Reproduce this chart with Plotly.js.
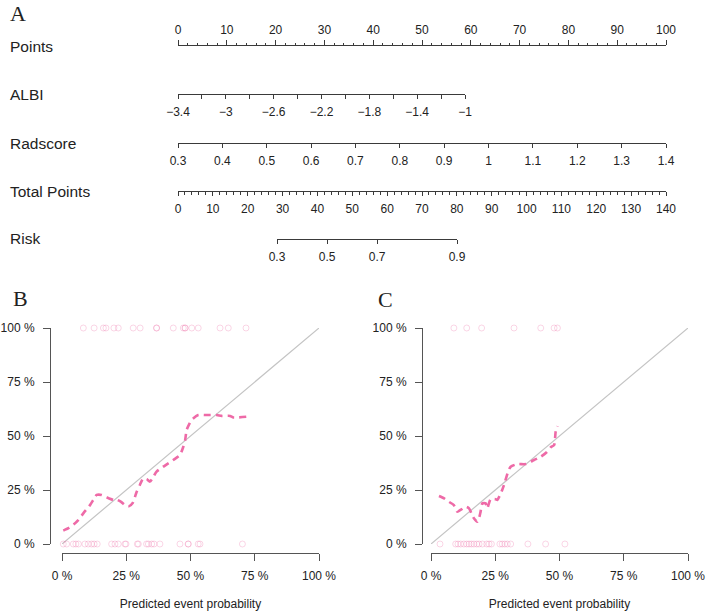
<!DOCTYPE html>
<html><head><meta charset="utf-8">
<script src="https://cdn.plot.ly/plotly-3.0.1.min.js"></script>
<style>html,body{margin:0;padding:0;background:#fff}#chart{width:708px;height:614px}</style>
</head><body><div id="chart"></div><script>
// ---------------- DATA ----------------
const rowLabels = ["Points", "ALBI", "Radscore", "Total Points", "Risk"];
const pointsRange = [0, 100];
const albiTicks = [-3.4,-3.2,-3.0,-2.8,-2.6,-2.4,-2.2,-2.0,-1.8,-1.6,-1.4,-1.2,-1.0];
const albiTickText = ["\u22123.4","","\u22123","","\u22122.6","","\u22122.2","","\u22121.8","","\u22121.4","","\u22121"];
const radTicks = [0.3,0.4,0.5,0.6,0.7,0.8,0.9,1.0,1.1,1.2,1.3,1.4];
const radTickText = ["0.3","0.4","0.5","0.6","0.7","0.8","0.9","1","1.1","1.2","1.3","1.4"];
const totalRange = [0, 140];
const riskTicks = [0.3, 0.5, 0.7, 0.9];
const riskTickText = ["0.3", "0.5", "0.7", "0.9"];

const pctTicks = [0, 0.25, 0.5, 0.75, 1];
const pctText = ["0 %", "25 %", "50 %", "75 %", "100 %"];

// Panel B
const bCurveX = [0.005,0.025,0.045,0.063,0.085,0.109,0.125,0.135,0.154,0.174,0.2,0.215,0.23,0.245,0.26,0.275,0.29,0.303,0.316,0.33,0.342,0.355,0.368,0.394,0.433,0.459,0.472,0.479,0.485,0.495,0.504,0.53,0.563,0.602,0.621,0.654,0.667,0.718];
const bCurveY = [0.062,0.073,0.09,0.111,0.145,0.18,0.21,0.227,0.227,0.216,0.204,0.204,0.195,0.18,0.175,0.19,0.24,0.273,0.304,0.30,0.289,0.31,0.335,0.358,0.389,0.412,0.45,0.48,0.528,0.555,0.574,0.597,0.597,0.597,0.593,0.593,0.586,0.589];
const bEventX = [0.083,0.125,0.161,0.171,0.202,0.219,0.277,0.304,0.368,0.368,0.433,0.472,0.479,0.479,0.505,0.530,0.615,0.647,0.716];
const bNoEventX = [0.005,0.018,0.044,0.054,0.064,0.089,0.102,0.115,0.125,0.137,0.193,0.206,0.219,0.245,0.249,0.293,0.297,0.329,0.336,0.349,0.358,0.381,0.459,0.491,0.491,0.530,0.537,0.702];

// Panel C
const cCurveX = [0.031,0.051,0.07,0.089,0.102,0.118,0.135,0.148,0.158,0.167,0.18,0.187,0.193,0.2,0.213,0.219,0.226,0.232,0.252,0.258,0.268,0.277,0.284,0.3,0.31,0.336,0.368,0.401,0.427,0.45,0.466,0.479,0.485,0.492];
const cCurveY = [0.222,0.211,0.195,0.18,0.15,0.16,0.173,0.165,0.14,0.119,0.103,0.12,0.15,0.188,0.188,0.165,0.19,0.207,0.207,0.204,0.225,0.25,0.273,0.335,0.358,0.37,0.37,0.389,0.404,0.425,0.448,0.458,0.52,0.546];
const cEventX = [0.089,0.139,0.197,0.323,0.427,0.479,0.492];
const cNoEventX = [0.035,0.096,0.105,0.115,0.128,0.139,0.148,0.157,0.167,0.178,0.187,0.2,0.217,0.226,0.235,0.268,0.277,0.287,0.297,0.31,0.377,0.446,0.521];

// ---------------- LAYOUT HELPERS ----------------
const W = 708, H = 614;
const fx = p => p / W;
const fy = p => 1 - p / H;
const logit = p => Math.log(p / (1 - p));
const FONT = "Liberation Sans, Arial, Helvetica, sans-serif";
const SERIF = "Liberation Serif, Times New Roman, serif";
const AX = "#3a3a3a";
const PINK = "#EE6AA7";
const DOT = "rgba(238,106,167,0.28)";

const traces = [];
const layout = {
  width: W, height: H,
  margin: {l: 0, r: 0, t: 0, b: 0},
  paper_bgcolor: "#fff", plot_bgcolor: "rgba(0,0,0,0)",
  showlegend: false,
  font: {family: FONT, size: 12, color: "#222"},
  annotations: [], shapes: []
};

function hiddenY(lineY, top) {
  const y0 = fy(lineY);
  return {domain: top ? [y0 - 0.004, y0] : [y0, y0 + 0.004], range: [0, 1],
          visible: false, fixedrange: true};
}
function nomoAxis(x0, x1, top, extra) {
  return Object.assign({
    domain: [fx(x0), fx(x1)], side: top ? "top" : "bottom",
    showline: true, linecolor: AX, linewidth: 1,
    ticks: "outside", ticklen: 4, tickwidth: 1, tickcolor: AX,
    showgrid: false, zeroline: false, fixedrange: true,
    ticklabelstandoff: top ? 1 : 3,
    tickfont: {family: FONT, size: 12, color: "#222"}
  }, extra);
}
function ghost(xs, ax) {
  traces.push({x: xs, y: xs.map(() => 0), xaxis: "x" + ax, yaxis: "y" + ax,
    mode: "markers", marker: {opacity: 0}, hoverinfo: "skip", type: "scatter"});
}

// Row 1: Points (line at y=46, ticks up)
layout.xaxis = nomoAxis(178, 666, true, {anchor: "y", range: pointsRange,
  tickmode: "linear", tick0: 0, dtick: 10, ticklen: 5,
  minor: {tickmode: "linear", tick0: 0, dtick: 2, ticks: "outside", ticklen: 2.5, tickcolor: AX}});
layout.yaxis = Object.assign(hiddenY(46, true), {anchor: "x"});
traces.push({x: pointsRange, y: [0, 0], xaxis: "x", yaxis: "y", mode: "markers",
  marker: {opacity: 0}, hoverinfo: "skip", type: "scatter"});

// Row 2: ALBI
layout.xaxis2 = nomoAxis(178, 465, false, {anchor: "y2", range: [albiTicks[0], albiTicks[albiTicks.length-1]],
  tickmode: "array", tickvals: albiTicks, ticktext: albiTickText});
layout.yaxis2 = Object.assign(hiddenY(94, false), {anchor: "x2"});
ghost(albiTicks, 2);

// Row 3: Radscore
layout.xaxis3 = nomoAxis(178, 666, false, {anchor: "y3", range: [radTicks[0], radTicks[radTicks.length-1]],
  tickmode: "array", tickvals: radTicks, ticktext: radTickText});
layout.yaxis3 = Object.assign(hiddenY(143, false), {anchor: "x3"});
ghost(radTicks, 3);

// Row 4: Total Points
layout.xaxis4 = nomoAxis(178, 666, false, {anchor: "y4", range: totalRange,
  tickmode: "linear", tick0: 0, dtick: 10,
  minor: {tickmode: "linear", tick0: 0, dtick: 2, ticks: "outside", ticklen: 2.5, tickcolor: AX}});
layout.yaxis4 = Object.assign(hiddenY(191, false), {anchor: "x4"});
ghost(totalRange, 4);

// Row 5: Risk (logit scale)
const riskVals = riskTicks.map(logit);
layout.xaxis5 = nomoAxis(277, 457, false, {anchor: "y5", range: [riskVals[0], riskVals[riskVals.length-1]],
  tickmode: "array", tickvals: riskVals, ticktext: riskTickText});
layout.yaxis5 = Object.assign(hiddenY(239, false), {anchor: "x5"});
ghost(riskVals, 5);

// Row labels
const rowLabelY = [46, 94, 143, 191, 239];
rowLabels.forEach((t, i) => layout.annotations.push({
  text: t, xref: "paper", yref: "paper", x: fx(8), y: fy(rowLabelY[i]),
  xanchor: "left", yanchor: "middle", showarrow: false,
  font: {family: FONT, size: 15.5, color: "#222"}}));

// Calibration panels
function calPanel(n, xl, xr, yAxisX) {
  layout["xaxis" + n] = {
    domain: [fx(xl), fx(xr)], range: [0, 1], anchor: "free", position: fy(552.5),
    showline: true, linecolor: "#555", linewidth: 1,
    ticks: "outside", ticklen: 7, tickwidth: 1, tickcolor: "#555",
    tickmode: "array", tickvals: pctTicks, ticktext: pctText,
    showgrid: false, zeroline: false, fixedrange: true, ticklabelstandoff: 5,
    tickfont: {family: FONT, size: 12, color: "#222"},
    title: {text: "Predicted event probability", font: {family: FONT, size: 12, color: "#222"}, standoff: 17}
  };
  layout["yaxis" + n] = {
    domain: [fy(544), fy(328)], range: [0, 1], anchor: "free", position: fx(yAxisX),
    showline: true, linecolor: "#555", linewidth: 1,
    ticks: "outside", ticklen: 7, tickwidth: 1, tickcolor: "#555",
    tickmode: "array", tickvals: pctTicks, ticktext: pctText,
    showgrid: false, zeroline: false, fixedrange: true, ticklabelstandoff: 6,
    tickfont: {family: FONT, size: 12, color: "#222"}
  };
}
calPanel(6, 62, 319, 50);
calPanel(7, 431, 688, 422);

function calTraces(n, cx, cy, ev, nev) {
  traces.push({x: [0, 1], y: [0, 1], xaxis: "x" + n, yaxis: "y" + n, mode: "lines",
    line: {color: "#c4c4c4", width: 1.2}, hoverinfo: "skip", type: "scatter"});
  traces.push({x: ev, y: ev.map(() => 1), xaxis: "x" + n, yaxis: "y" + n, mode: "markers",
    marker: {symbol: "circle-open", size: 6, color: DOT, line: {width: 1, color: DOT}},
    cliponaxis: false, type: "scatter"});
  traces.push({x: nev, y: nev.map(() => 0), xaxis: "x" + n, yaxis: "y" + n, mode: "markers",
    marker: {symbol: "circle-open", size: 6, color: DOT, line: {width: 1, color: DOT}},
    cliponaxis: false, type: "scatter"});
  traces.push({x: cx, y: cy, xaxis: "x" + n, yaxis: "y" + n, mode: "lines",
    line: {color: PINK, width: 2.6, dash: "7px,5px", shape: "spline", smoothing: 0.6},
    cliponaxis: false, type: "scatter"});
}
calTraces(6, bCurveX, bCurveY, bEventX, bNoEventX);
calTraces(7, cCurveX, cCurveY, cEventX, cNoEventX);

// Panel letters
[["A", 8, 13], ["B", 11, 298], ["C", 376, 299]].forEach(([t, x, y]) => layout.annotations.push({
  text: t, xref: "paper", yref: "paper", x: fx(x), y: fy(y), xanchor: "left", yanchor: "middle",
  showarrow: false, font: {family: SERIF, size: 22, color: "#222"}}));

Plotly.newPlot("chart", traces, layout, {staticPlot: true, displayModeBar: false});
</script></body></html>
